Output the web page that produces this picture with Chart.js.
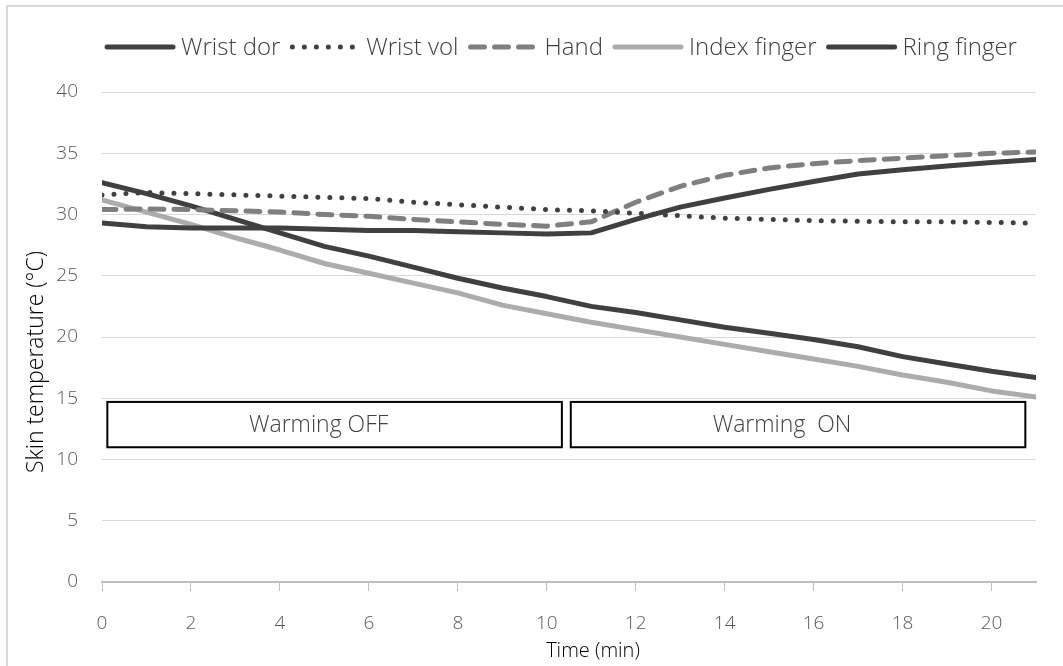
<!DOCTYPE html>
<html>
<head>
<meta charset="utf-8">
<script src="https://cdn.jsdelivr.net/npm/chart.js@4/dist/chart.umd.min.js"></script>
<style>
  html, body { margin: 0; padding: 0; background: #fff; }
  #wrap { width: 1063px; height: 666px; }
</style>
</head>
<body>
<div id="wrap"><canvas id="chart" width="1063" height="666"></canvas></div>
<script>
// skin temperature, one reading per minute
var minutes = [0, 1, 2, 3, 4, 5, 6, 7, 8, 9, 10, 11, 12, 13, 14, 15, 16, 17, 18, 19, 20, 21]
var wristDor = [29.3, 29.0, 28.9, 28.9, 28.9, 28.8, 28.7, 28.7, 28.6, 28.5, 28.4, 28.5, 29.6, 30.6, 31.35, 32.05, 32.7, 33.3, 33.65, 33.95, 34.25, 34.5]
var wristVol = [31.6, 31.8, 31.7, 31.6, 31.5, 31.4, 31.3, 31.0, 30.8, 30.6, 30.4, 30.3, 30.1, 29.9, 29.7, 29.6, 29.5, 29.45, 29.4, 29.4, 29.35, 29.3]
var hand = [30.4, 30.45, 30.4, 30.3, 30.2, 30.0, 29.85, 29.6, 29.4, 29.2, 29.05, 29.4, 31.0, 32.3, 33.2, 33.8, 34.15, 34.4, 34.6, 34.8, 35.0, 35.1]
var indexFinger = [31.2, 30.2, 29.2, 28.1, 27.1, 26.0, 25.2, 24.4, 23.6, 22.6, 21.9, 21.2, 20.6, 20.0, 19.4, 18.8, 18.2, 17.6, 16.9, 16.3, 15.6, 15.1]
var ringFinger = [32.6, 31.7, 30.7, 29.6, 28.5, 27.4, 26.6, 25.7, 24.8, 24.0, 23.3, 22.5, 22.0, 21.4, 20.8, 20.3, 19.8, 19.2, 18.4, 17.8, 17.2, 16.7]

// warming phases (minutes) and the temperature band their labels sit in
var phaseLabels = ['Warming OFF', 'Warming  ON']
var phaseStart = [0.12, 10.54]
var phaseEnd = [10.34, 20.76]
var phaseBand = [11.0, 14.7]

var xTitle = 'Time (min)'
var yTitle = 'Skin temperature (°C)'

var FONT = '"Open Sans", "Segoe UI", sans-serif'

function points(values) {
    return minutes.map(function (m, i) { return { x: m, y: values[i] } })
}

function series(label, values, color, width, dash) {
    return {
        label: label,
        data: points(values),
        borderColor: color,
        backgroundColor: color,
        borderWidth: width,
        borderDash: dash,
        borderCapStyle: 'round',
        borderJoinStyle: 'round',
        pointRadius: 0,
        tension: 0,
        fill: false
    }
}

// legend row: line sample then name, centred over the plot
const lineLegend = {
    id: 'lineLegend',
    afterDraw(chart) {
        const ctx = chart.ctx
        const sets = chart.data.datasets
        const sample = 70, textGap = 6, itemGap = 10
        ctx.save()
        ctx.font = '300 24px ' + FONT
        let total = 0
        const widths = sets.map(function (d) { return ctx.measureText(d.label).width })
        widths.forEach(function (w) { total += sample + textGap + w })
        total += itemGap * (sets.length - 1)
        let x = (chart.chartArea.left + chart.chartArea.right) / 2 - 8 - total / 2
        const y = 47
        sets.forEach(function (d, i) {
            ctx.beginPath()
            ctx.strokeStyle = d.borderColor
            ctx.lineWidth = d.borderWidth
            ctx.lineCap = 'round'
            ctx.setLineDash(d.borderDash)
            ctx.moveTo(x + 2, y)
            ctx.lineTo(x + sample - 2, y)
            ctx.stroke()
            ctx.setLineDash([])
            ctx.fillStyle = '#404040'
            ctx.textAlign = 'left'
            ctx.textBaseline = 'middle'
            ctx.fillText(d.label, x + sample + textGap, y + 1)
            x += sample + textGap + widths[i] + itemGap
        })
        ctx.restore()
    }
}

// axis titles
const axisTitles = {
    id: 'axisTitles',
    afterDraw(chart) {
        const ctx = chart.ctx
        const area = chart.chartArea
        ctx.save()
        ctx.fillStyle = '#000'
        ctx.textAlign = 'center'
        ctx.textBaseline = 'middle'
        ctx.font = '300 20px ' + FONT
        ctx.fillText(xTitle, (area.left + area.right) / 2 + 24, 651)
        ctx.translate(36, (area.top + area.bottom) / 2 + 25)
        ctx.rotate(-Math.PI / 2)
        ctx.font = '300 23px ' + FONT
        ctx.fillText(yTitle, 0, 0)
        ctx.restore()
    }
}

// labelled boxes for the two phases, placed through the chart scales
const phaseBoxes = {
    id: 'phaseBoxes',
    afterDatasetsDraw(chart) {
        const ctx = chart.ctx
        const xs = chart.scales.x
        const ys = chart.scales.y
        ctx.save()
        for (let i = 0; i < phaseLabels.length; i++) {
            const x0 = xs.getPixelForValue(phaseStart[i])
            const x1 = xs.getPixelForValue(phaseEnd[i])
            const y0 = ys.getPixelForValue(phaseBand[1])
            const y1 = ys.getPixelForValue(phaseBand[0])
            ctx.fillStyle = '#fff'
            ctx.fillRect(x0, y0, x1 - x0, y1 - y0)
            ctx.strokeStyle = '#000'
            ctx.lineWidth = 2
            ctx.strokeRect(x0, y0, x1 - x0, y1 - y0)
            ctx.fillStyle = '#404040'
            ctx.font = '300 23px ' + FONT
            ctx.textAlign = 'center'
            ctx.textBaseline = 'middle'
            ctx.fillText(phaseLabels[i], (x0 + x1) / 2 - 16, (y0 + y1) / 2 + 1)
        }
        ctx.restore()
    }
}

// thin frame round the whole chart
const frame = {
    id: 'frame',
    beforeDraw(chart) {
        const ctx = chart.ctx
        ctx.save()
        ctx.fillStyle = '#fff'
        ctx.fillRect(0, 0, chart.width, chart.height)
        ctx.strokeStyle = '#d9d9d9'
        ctx.lineWidth = 2
        ctx.strokeRect(7, 6, chart.width + 20, chart.height + 20)
        ctx.restore()
    }
}

new Chart('chart', {
    type: 'line',
    data: {
        datasets: [
            series('Wrist dor', wristDor, '#404040', 5, []),
            series('Wrist vol', wristVol, '#404040', 5, [0, 12]),
            series('Hand', hand, '#7f7f7f', 5, [14, 10]),
            series('Index finger', indexFinger, '#afabab', 5, []),
            series('Ring finger', ringFinger, '#404040', 5, [])
        ]
    },
    options: {
        responsive: false,
        animation: false,
        layout: { padding: { top: 92, right: 27, left: 0, bottom: 0 } },
        plugins: {
            tooltip: { enabled: false },
            legend: { display: false }
        },
        scales: {
            x: {
                type: 'linear',
                min: 0,
                max: 21,
                afterFit(scale) { scale.height = 84 },
                afterBuildTicks(scale) {
                    scale.ticks = scale.ticks.filter(function (t) { return t.value % 2 === 0 })
                },
                ticks: {
                    stepSize: 2,
                    padding: 21,
                    color: '#595959',
                    font: { family: FONT, size: 19, weight: '300' }
                },
                grid: { drawOnChartArea: false, color: '#bfbfbf', tickLength: 9, lineWidth: 1 },
                border: { color: '#bfbfbf', width: 2 }
            },
            y: {
                min: 0,
                max: 40,
                afterFit(scale) { scale.width = 102 },
                ticks: {
                    stepSize: 5,
                    padding: 24,
                    color: '#595959',
                    font: { family: FONT, size: 19, weight: '300' }
                },
                grid: { color: '#d9d9d9', lineWidth: 1, drawTicks: false },
                border: { display: false }
            }
        }
    },
    plugins: [frame, phaseBoxes, lineLegend, axisTitles]
});
</script>
</body>
</html>
